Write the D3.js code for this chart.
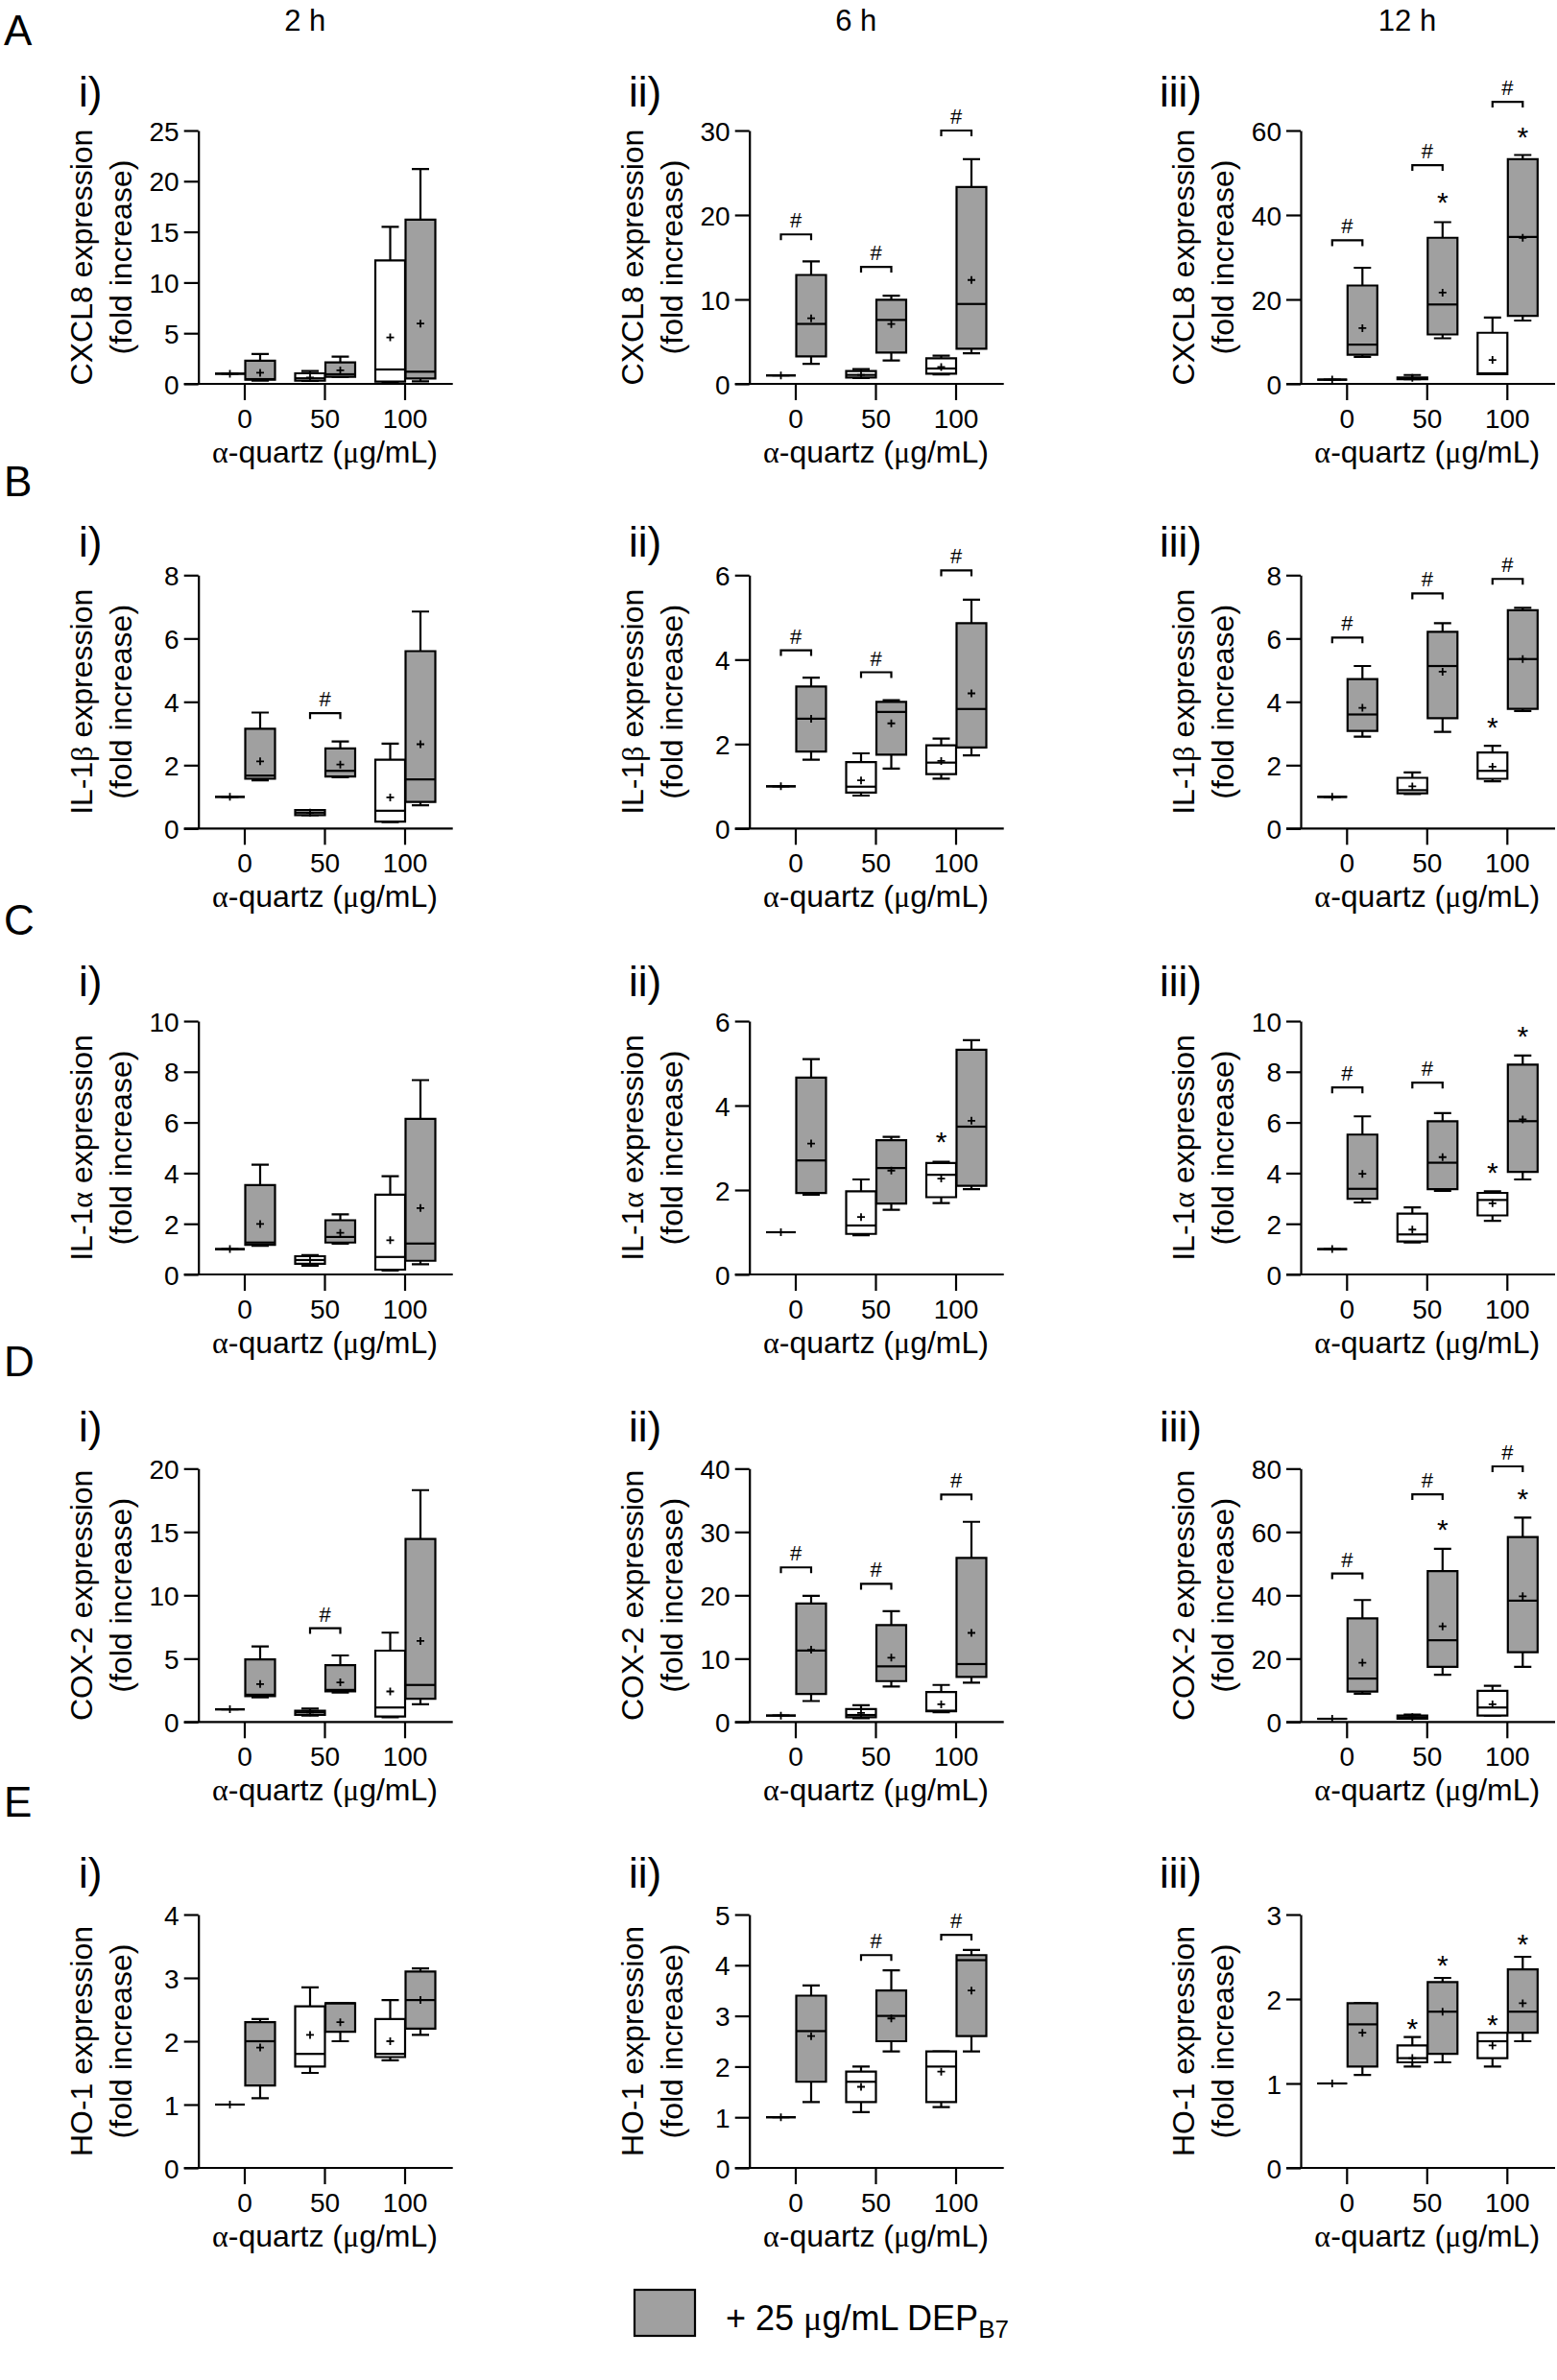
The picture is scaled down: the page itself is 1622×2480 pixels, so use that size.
<!DOCTYPE html>
<html><head><meta charset="utf-8">
<script src="https://cdn.jsdelivr.net/npm/d3@7"></script>
<style>
body{margin:0;background:#fff;}
svg{display:block;font-family:"Liberation Sans",Arial,sans-serif;}
</style></head><body>
<svg id="chart" width="1622" height="2480"></svg>
<script>
const categories = ["0","50","100"];
const timepoints = ["2 h","6 h","12 h"];
const rowLetters = ["A","B","C","D","E"];
const panelNumerals = ["i)","ii)","iii)"];
const genes = ["CXCL8","IL-1β","IL-1α","COX-2","HO-1"];
const yMax = [[25,30,60],[8,6,8],[10,6,10],[20,40,80],[4,5,3]];
const yStep = [[5,10,20],[2,2,2],[2,2,2],[5,10,20],[1,1,1]];
const legendSub = "B7";

// box stats per category: [whiskerLow, q1, median, q3, whiskerHigh, mean]
// "quartz" = α-quartz alone (white), "dep" = + 25 μg/mL DEP_B7 (grey)
const A1_quartz = [[1,1,1,1,1,1],[0.3,0.32,0.55,1.04,1.27,0.63],[0.2,0.22,1.42,12.18,15.5,4.59]];
const A1_dep    = [[0.32,0.41,0.47,2.28,2.94,1.1],[0.7,0.7,0.95,2.12,2.69,1.33],[0.25,0.54,1.2,16.2,21.2,5.95]];
const A2_quartz = [[1,1,1,1,1,1],[0.68,0.76,1.06,1.51,1.74,1.06],[1.13,1.21,1.82,3.03,3.33,2.0]];
const A2_dep    = [[2.38,3.25,7.1,12.9,14.5,7.76],[2.76,3.7,7.57,9.95,10.44,7.08],[3.63,4.16,9.46,23.3,26.6,12.3]];
const A3_quartz = [[1,1,1,1,1,1],[1.1,1.1,1.3,1.5,2.1,1.4],[2.27,2.27,2.5,12.1,15.7,5.67]];
const A3_dep    = [[6.4,6.9,9.3,23.3,27.5,13.2],[10.8,11.7,18.8,34.6,38.3,21.6],[15.0,16.1,34.8,53.2,54.2,34.6]];

const B1_quartz = [[1,1,1,1,1,1],[0.42,0.42,0.5,0.58,0.58,0.5],[0.2,0.22,0.56,2.17,2.68,0.98]];
const B1_dep    = [[1.52,1.57,1.67,3.15,3.66,2.12],[1.62,1.64,1.82,2.53,2.75,2.02],[0.73,0.84,1.55,5.6,6.85,2.66]];
const B2_quartz = [[1,1,1,1,1,1],[0.78,0.85,0.99,1.57,1.78,1.14],[1.18,1.29,1.56,1.97,2.13,1.6]];
const B2_dep    = [[1.63,1.82,2.6,3.36,3.57,2.6],[1.42,1.75,2.76,3.0,3.04,2.49],[1.73,1.92,2.83,4.86,5.42,3.2]];
const B3_quartz = [[1,1,1,1,1,1],[1.09,1.11,1.21,1.6,1.77,1.33],[1.49,1.57,1.82,2.4,2.61,1.95]];
const B3_dep    = [[2.9,3.08,3.6,4.72,5.13,3.81],[3.05,3.48,5.13,6.21,6.48,4.95],[3.71,3.78,5.35,6.89,6.97,5.35]];

const C1_quartz = [[1,1,1,1,1,1],[0.34,0.42,0.57,0.72,0.76,0.57],[0.16,0.19,0.69,3.15,3.88,1.35]];
const C1_dep    = [[1.13,1.17,1.26,3.53,4.33,1.99],[1.22,1.26,1.48,2.14,2.37,1.64],[0.4,0.54,1.22,6.14,7.67,2.62]];
const C2_quartz = [[1,1,1,1,1,1],[0.93,0.96,1.16,1.97,2.25,1.36],[1.69,1.83,2.36,2.64,2.67,2.27]];
const C2_dep    = [[1.89,1.93,2.7,4.66,5.1,3.1],[1.53,1.68,2.52,3.18,3.26,2.46],[2.02,2.1,3.5,5.32,5.55,3.64]];
const C3_quartz = [[1,1,1,1,1,1],[1.26,1.3,1.58,2.4,2.65,1.77],[2.12,2.33,2.94,3.22,3.28,2.81]];
const C3_dep    = [[2.84,2.99,3.38,5.52,6.24,3.97],[3.3,3.37,4.41,6.05,6.37,4.63],[3.75,4.05,6.05,8.28,8.64,6.12]];

const D1_quartz = [[1,1,1,1,1,1],[0.5,0.56,0.76,0.89,1.06,0.76],[0.38,0.43,1.14,5.63,7.05,2.41]];
const D1_dep    = [[1.95,2.03,2.15,4.94,5.96,2.99],[2.33,2.41,2.53,4.49,5.25,3.12],[1.39,1.83,2.92,14.45,18.3,6.39]];
const D2_quartz = [[1,1,1,1,1,1],[0.6,0.76,1.1,2.03,2.64,1.42],[1.52,1.68,1.78,4.72,5.84,2.79]];
const D2_dep    = [[3.3,4.42,11.27,18.7,19.9,11.4],[5.58,6.45,8.78,15.3,17.5,10.15],[6.19,7.1,9.14,25.9,31.6,14.06]];
const D3_quartz = [[1,1,1,1,1,1],[1.0,1.0,1.5,2.0,2.3,1.5],[2.03,2.03,4.56,9.82,11.4,5.57]];
const D3_dep    = [[8.9,9.62,13.7,32.7,38.5,18.7],[14.9,17.4,25.8,47.6,54.7,30.2],[17.4,22.0,38.3,58.4,64.5,39.7]];

const E1_quartz = [[1,1,1,1,1,1],[1.5,1.6,1.8,2.55,2.85,2.1],[1.7,1.75,1.8,2.35,2.65,2.0]];
const E1_dep    = [[1.1,1.3,2.0,2.3,2.35,1.9],[2.0,2.15,2.6,2.6,2.6,2.3],[2.1,2.2,2.65,3.1,3.15,2.65]];
const E2_quartz = [[1,1,1,1,1,1],[1.1,1.3,1.7,1.9,2.0,1.6],[1.2,1.3,2.0,2.3,2.3,1.9]];
const E2_dep    = [[1.3,1.7,2.7,3.4,3.6,2.6],[2.3,2.5,3.0,3.5,3.9,2.95],[2.3,2.6,4.1,4.2,4.3,3.5]];
const E3_quartz = [[1,1,1,1,1,1],[1.2,1.25,1.3,1.45,1.55,1.3],[1.2,1.3,1.5,1.6,1.6,1.45]];
const E3_dep    = [[1.1,1.2,1.7,1.95,1.95,1.6],[1.25,1.35,1.85,2.2,2.25,1.85],[1.5,1.6,1.85,2.35,2.5,1.95]];

// "#" brackets: [categoryIndex, value]
const A2_hash = [[0,17.7],[1,13.85],[2,30.0]];
const A3_hash = [[0,34.0],[1,51.8],[2,66.8]];
const B1_hash = [[1,3.64]];
const B2_hash = [[0,4.22],[1,3.7],[2,6.11]];
const B3_hash = [[0,6.03],[1,7.42],[2,7.88]];
const C3_hash = [[0,7.38],[1,7.57]];
const D1_hash = [[1,7.4]];
const D2_hash = [[0,24.4],[1,21.8],[2,35.9]];
const D3_hash = [[0,46.9],[1,71.9],[2,80.7]];
const E2_hash = [[1,4.2],[2,4.6]];
// "*" marks: [series (0 quartz, 1 dep), categoryIndex, value]
const A3_star = [[1,1,44],[1,2,59.6]];
const B3_star = [[0,2,3.33]];
const C2_star = [[0,2,3.26]];
const C3_star = [[0,2,4.22],[1,2,9.58]];
const D3_star = [[1,1,62.3],[1,2,71.9]];
const E3_star = [[0,1,1.7],[1,1,2.45],[0,2,1.75],[1,2,2.7]];

const quartzData = [[A1_quartz,A2_quartz,A3_quartz],[B1_quartz,B2_quartz,B3_quartz],[C1_quartz,C2_quartz,C3_quartz],[D1_quartz,D2_quartz,D3_quartz],[E1_quartz,E2_quartz,E3_quartz]];
const depData = [[A1_dep,A2_dep,A3_dep],[B1_dep,B2_dep,B3_dep],[C1_dep,C2_dep,C3_dep],[D1_dep,D2_dep,D3_dep],[E1_dep,E2_dep,E3_dep]];
const hashData = [[[],A2_hash,A3_hash],[B1_hash,B2_hash,B3_hash],[[],[],C3_hash],[D1_hash,D2_hash,D3_hash],[[],E2_hash,[]]];
const starData = [[[],[],A3_star],[[],[],B3_star],[[],C2_star,C3_star],[[],[],D3_star],[[],[],E3_star]];

// ---------- layout ----------
const colAxisX = [206.7, 780.7, 1355];
const rowTop = [136, 599.3, 1064, 1530.3, 1995];
const plotH = 264;
const numeralX = [82, 655, 1208];
const numeralBase = [111, 580, 1038, 1502, 1967];
const letterBase = [47, 517, 974, 1434, 1893];
const GREY = "#a0a0a0";
const SW = 2.2;

const svg = d3.select("#chart");

timepoints.forEach((t,c)=>{
  svg.append("text").attr("x", colAxisX[c]+111).attr("y", 32)
    .attr("text-anchor","middle").attr("font-size",31).text(t);
});
rowLetters.forEach((l,r)=>{
  svg.append("text").attr("x", 4).attr("y", letterBase[r]).attr("font-size",44).text(l);
});

function geneLabel(sel, gene){
  const m = gene.match(/^(.*?)([αβ])(.*)$/);
  if(m){
    sel.append("tspan").text(m[1]);
    sel.append("tspan").attr("font-family","'Liberation Serif',serif").text(m[2]);
    sel.append("tspan").text(m[3] + " expression");
  } else sel.text(gene + " expression");
}

function drawPanel(r,c){
  const ax = colAxisX[c], top = rowTop[r], bottom = top + plotH;
  const y = d3.scaleLinear().domain([0, yMax[r][c]]).range([bottom, top]);
  const x = d3.scalePoint().domain(categories).range([ax+48.3, ax+215.3]);
  const g = svg.append("g");

  g.append("text").attr("x", numeralX[c]).attr("y", numeralBase[r]).attr("font-size",44).text(panelNumerals[c]);

  const ticks = d3.range(0, yMax[r][c] + 1e-9, yStep[r][c]);
  const ya = g.append("g").attr("transform",`translate(${ax},0)`)
    .call(d3.axisLeft(y).tickValues(ticks).tickSize(15).tickSizeOuter(0).tickPadding(5).tickFormat(d3.format("d")));
  ya.select(".domain").attr("stroke","#000").attr("stroke-width",SW);
  ya.selectAll(".tick line").attr("stroke","#000").attr("stroke-width",SW);
  ya.selectAll(".tick text").attr("font-size",28).attr("font-family","'Liberation Sans',Arial,sans-serif").attr("fill","#000").attr("dy","0.36em");

  g.append("line").attr("x1",ax-15).attr("x2",ax+265).attr("y1",bottom).attr("y2",bottom)
    .attr("stroke","#000").attr("stroke-width",SW);
  categories.forEach(cat=>{
    g.append("line").attr("x1",x(cat)).attr("x2",x(cat)).attr("y1",bottom).attr("y2",bottom+17)
      .attr("stroke","#000").attr("stroke-width",SW);
    g.append("text").attr("x",x(cat)).attr("y",bottom+46).attr("text-anchor","middle")
      .attr("font-size",28).text(cat);
  });
  const xt = g.append("text").attr("x", x("50")).attr("y", bottom+82).attr("text-anchor","middle").attr("font-size",32);
  xt.append("tspan").attr("font-family","'Liberation Serif',serif").text("α");
  xt.append("tspan").text("-quartz (");
  xt.append("tspan").attr("font-family","'Liberation Serif',serif").text("μ");
  xt.append("tspan").text("g/mL)");

  const midY = (top+bottom)/2;
  const l1 = g.append("text").attr("transform",`translate(${ax-111},${midY}) rotate(-90)`)
    .attr("text-anchor","middle").attr("font-size",32);
  geneLabel(l1, genes[r]);
  g.append("text").attr("transform",`translate(${ax-70},${midY}) rotate(-90)`)
    .attr("text-anchor","middle").attr("font-size",32).text("(fold increase)");

  const series = [{d:quartzData[r][c], dx:-15.5, fill:"#fff"},{d:depData[r][c], dx:16, fill:GREY}];
  const hw = 15.5, cap = 9;
  series.forEach(s=>{
    s.d.forEach((st,i)=>{
      const cx = x(categories[i]) + s.dx;
      const [lo,q1,med,q3,hi,mean] = st;
      const bg = g.append("g");
      bg.append("path").attr("d",`M${cx},${y(q3)}V${y(hi)}M${cx-cap},${y(hi)}H${cx+cap}M${cx},${y(q1)}V${y(lo)}M${cx-cap},${y(lo)}H${cx+cap}`)
        .attr("stroke","#000").attr("stroke-width",SW).attr("fill","none");
      bg.append("path").attr("d",`M${cx-hw},${y(q3)}H${cx+hw}V${y(q1)}H${cx-hw}Z`)
        .attr("fill",s.fill).attr("stroke","#000").attr("stroke-width",SW);
      bg.append("line").attr("x1",cx-hw).attr("x2",cx+hw).attr("y1",y(med)).attr("y2",y(med))
        .attr("stroke","#000").attr("stroke-width",SW);
      bg.append("path").attr("d",`M${cx-4},${y(mean)}H${cx+4}M${cx},${y(mean)-4}V${y(mean)+4}`)
        .attr("stroke","#000").attr("stroke-width",1.8);
    });
  });

  hashData[r][c].forEach(([i,v])=>{
    const xc = x(categories[i]);
    const yv = y(v);
    g.append("path").attr("d",`M${xc-15.5},${yv+6}V${yv}H${xc+16}V${yv+6}`)
      .attr("stroke","#000").attr("stroke-width",SW).attr("fill","none");
    g.append("text").attr("x",xc).attr("y",yv-7).attr("text-anchor","middle").attr("font-size",22).text("#");
  });
  starData[r][c].forEach(([si,i,v])=>{
    const xc = x(categories[i]) + (si===0 ? -15.5 : 16);
    g.append("text").attr("x",xc).attr("y",y(v)+15).attr("text-anchor","middle").attr("font-size",30).text("*");
  });
}

for(let r=0;r<5;r++) for(let c=0;c<3;c++) drawPanel(r,c);

svg.append("rect").attr("x",661).attr("y",2386).attr("width",63).attr("height",48)
  .attr("fill",GREY).attr("stroke","#000").attr("stroke-width",SW);
const lt = svg.append("text").attr("x",756).attr("y",2428).attr("font-size",36);
lt.append("tspan").text("+ 25 ");
lt.append("tspan").attr("font-family","'Liberation Serif',serif").text("μ");
lt.append("tspan").text("g/mL DEP");
lt.append("tspan").attr("font-size",26).attr("dy",8).text(legendSub);
</script>
</body></html>
